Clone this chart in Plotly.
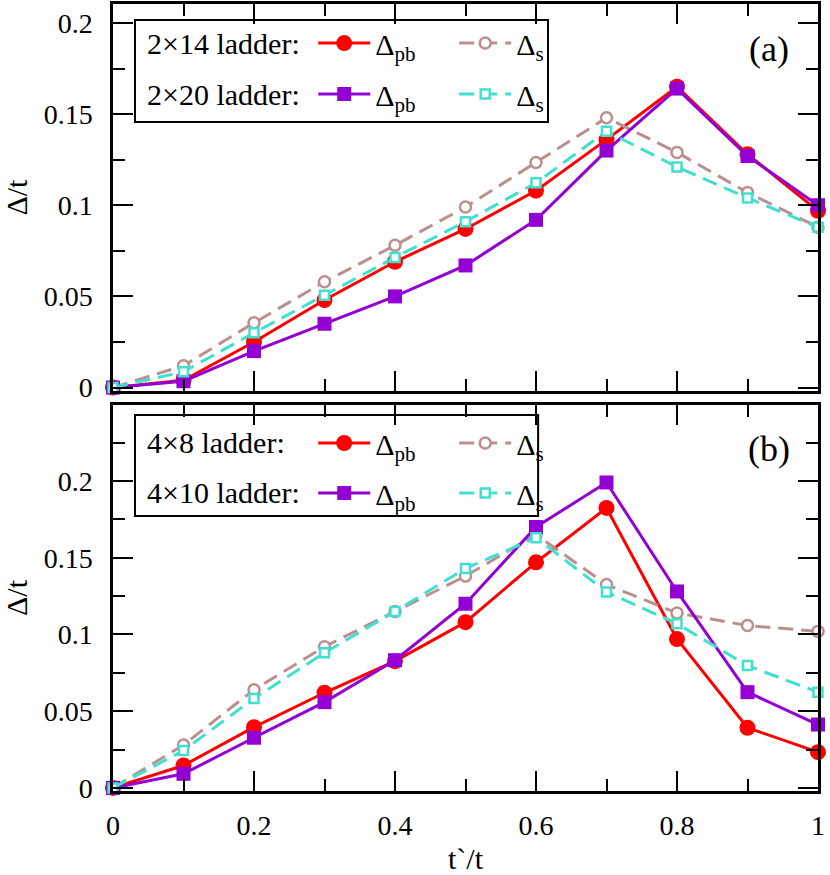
import plotly.graph_objects as go
from plotly.subplots import make_subplots

# %% Daten
t_ratio = [0.0, 0.1, 0.2, 0.3, 0.4, 0.5, 0.6, 0.7, 0.8, 0.9, 1.0]

# (a) 2-leg ladders
pb_2x14 = [0, 0.004, 0.025, 0.048, 0.069, 0.087, 0.108, 0.136, 0.165, 0.128, 0.097]
s_2x14 = [0, 0.012, 0.0355, 0.058, 0.078, 0.099, 0.1235, 0.148, 0.129, 0.107, 0.088]
pb_2x20 = [0, 0.0035, 0.020, 0.035, 0.050, 0.067, 0.092, 0.130, 0.164, 0.127, 0.100]
s_2x20 = [0, 0.0087, 0.030, 0.0507, 0.0714, 0.091, 0.1123, 0.1406, 0.121, 0.104, 0.088]

# (b) 4-leg ladders
pb_4x8 = [0, 0.0146, 0.0396, 0.062, 0.0826, 0.108, 0.147, 0.1824, 0.097, 0.0392, 0.0233]
s_4x8 = [0, 0.028, 0.064, 0.092, 0.115, 0.138, 0.165, 0.1325, 0.114, 0.1058, 0.102]
pb_4x10 = [0, 0.0092, 0.0327, 0.0559, 0.0832, 0.120, 0.170, 0.199, 0.128, 0.0624, 0.0413]
s_4x10 = [0, 0.0244, 0.0583, 0.088, 0.115, 0.143, 0.163, 0.1277, 0.107, 0.0797, 0.0624]

row_labels = ["2×14 ladder:", "2×20 ladder:", "4×8 ladder:", "4×10 ladder:"]
panel_labels = ["(a)", "(b)"]

FONT = "Liberation Serif"
RED = "#ff0000"
VIOLET = "#9400d3"
BROWN = "#bc8f8f"
CYAN = "#40e0d0"

fig = make_subplots(rows=2, cols=1, shared_xaxes=True)


def add_pb(y, row, color, symbol, size, legend):
    fig.add_trace(go.Scatter(
        x=t_ratio, y=y, mode="lines+markers", name="Δ<sub>pb</sub>",
        line=dict(color=color, width=3),
        marker=dict(color=color, symbol=symbol, size=size),
        cliponaxis=False, legend=legend,
    ), row=row, col=1)


def add_s(y, row, color, symbol, size, legend):
    # offene Symbole: weiss gefuellt mit farbigem Rand
    fig.add_trace(go.Scatter(
        x=t_ratio, y=y, mode="lines+markers", name="Δ<sub>s</sub>",
        line=dict(color=color, width=3, dash="15px,8px"),
        marker=dict(color="white", symbol=symbol, size=size,
                    line=dict(color=color, width=2.5)),
        cliponaxis=False, legend=legend,
    ), row=row, col=1)


# Panel (a)
add_pb(pb_2x14, 1, RED, "circle", 16, "legend")
add_s(s_2x14, 1, BROWN, "circle", 11, "legend")
add_pb(pb_2x20, 1, VIOLET, "square", 14, "legend2")
add_s(s_2x20, 1, CYAN, "square", 9, "legend2")

# Panel (b)
add_pb(pb_4x8, 2, RED, "circle", 16, "legend3")
add_s(s_4x8, 2, BROWN, "circle", 11, "legend3")
add_pb(pb_4x10, 2, VIOLET, "square", 14, "legend4")
add_s(s_4x10, 2, CYAN, "square", 9, "legend4")

axis_style = dict(
    showline=True, linewidth=2.5, linecolor="black", mirror="allticks",
    ticks="inside", ticklen=20, tickwidth=2, tickcolor="black",
    showgrid=False, zeroline=False, automargin=False,
    tickfont=dict(family=FONT, size=28, color="black"),
)

fig.update_xaxes(axis_style, range=[0, 1], dtick=0.2,
                 minor=dict(dtick=0.1, ticks="inside", ticklen=12, tickwidth=2, tickcolor="black"))
fig.update_xaxes(showticklabels=False, row=1, col=1)
fig.update_xaxes(title=dict(text="t`/t", font=dict(family=FONT, size=30, color="black"), standoff=10),
                 ticklabelstandoff=8, row=2, col=1)

fig.update_yaxes(axis_style, dtick=0.05, ticklabelstandoff=12,
                 title=dict(text="Δ/t", font=dict(family=FONT, size=30, color="black"), standoff=16),
                 minor=dict(dtick=0.025, ticks="inside", ticklen=12, tickwidth=2, tickcolor="black"))
fig.update_yaxes(range=[-0.002, 0.2104], domain=[0.508, 1.0], row=1, col=1)
fig.update_yaxes(range=[-0.002, 0.2495], domain=[0.0, 0.4905], row=2, col=1)

# Legenden: je eine Zeile pro System
leg_font = dict(family=FONT, size=30, color="black")
leg_rows = {"legend": 0.9504, "legend2": 0.8856, "legend3": 0.4422, "legend4": 0.3787}
leg_layout = {}
for key, ypos in leg_rows.items():
    leg_layout[key] = dict(
        x=0.284, y=ypos, xanchor="left", yanchor="middle",
        orientation="h", bgcolor="rgba(0,0,0,0)", borderwidth=0,
        font=leg_font, itemwidth=52, entrywidth=74, tracegroupgap=0,
    )

# Rahmen um die Legenden
fig.add_shape(type="rect", xref="paper", yref="paper", x0=0.0312, x1=0.617, y0=0.850, y1=0.9797,
              line=dict(color="black", width=2), fillcolor="white", layer="below")
fig.add_shape(type="rect", xref="paper", yref="paper", x0=0.0312, x1=0.603, y0=0.3494, y1=0.4778,
              line=dict(color="black", width=2), fillcolor="white", layer="below")

label_y = [0.9504, 0.8856, 0.4422, 0.3787]
for text, ypos in zip(row_labels, label_y):
    fig.add_annotation(text=text, xref="paper", yref="paper", x=0.0454, y=ypos,
                       xanchor="left", yanchor="middle", showarrow=False, font=leg_font)

for text, ypos in zip(panel_labels, [0.9428, 0.4346]):
    fig.add_annotation(text=text, xref="paper", yref="paper", x=0.931, y=ypos,
                       xanchor="center", yanchor="middle", showarrow=False,
                       font=dict(family=FONT, size=36, color="black"))

fig.update_layout(
    width=830, height=875,
    margin=dict(l=113, r=12, t=4, b=84),
    paper_bgcolor="white", plot_bgcolor="white",
    font=dict(family=FONT, color="black"),
    **leg_layout,
)

# Browser-Rand (8px) entfernen, damit die Figur genau ins Fenster passt
fig.write_html("out.html", config={"displayModeBar": False},
               post_script="document.body.style.margin='0';")
